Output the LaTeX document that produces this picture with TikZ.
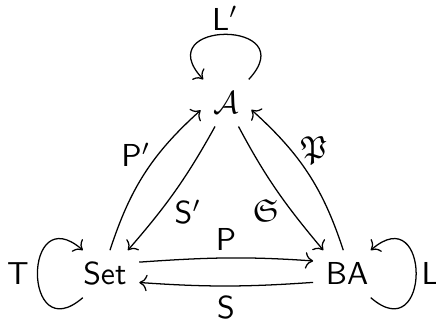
\documentclass[tikz,border=0pt]{standalone}
\usepackage{amssymb}
\usepackage{tikz}
\usetikzlibrary{arrows.meta}

\begin{document}
\begin{tikzpicture}
\tikzset{obj/.style={inner sep=3.8pt},
  lab/.style={inner sep=0pt},
  arr/.style={->}}
\useasboundingbox (-1.162,-0.576) rectangle (3.665,3.033);

% ---------- objects ----------
\node[obj] (set) at (0,0)       {$\mathsf{Set}$};
\node[obj] (ba)  at (2.68,0)    {$\mathsf{BA}$};
\node[obj] (a)   at (1.34,1.893) {$\mathcal{A}$};

% ---------- loops ----------
\draw[arr] (a.46) to[out=47,in=133,distance=0.908cm] (a.134);     % L'
\draw[arr] (set.227) to[out=221,in=139,distance=0.886cm] (set.133); % T
\draw[arr] (ba.-45) to[out=-41,in=41,distance=0.886cm] (ba.45);     % L
\node[lab] (llp) at (1.33,2.83)  {$\mathsf{L}'$};
\node[lab] (lt)  at (-0.963,0)   {$\mathsf{T}$};
\node[lab] (ll)  at (3.60,0)     {$\mathsf{L}$};

% ---------- Set <-> A ----------
\draw[arr] (set.78) to[out=72,in=222] (a.196);   % P'
\draw[arr] (a.245) to[out=241,in=49] (set.46);   % S'
\node[lab] (lpp) at (0.343,1.317) {$\mathsf{P}'$};
\node[lab] (lsp) at (0.919,0.686) {$\mathsf{S}'$};

% ---------- BA <-> A ----------
\draw[arr] (a.298) to[out=298,in=130] (ba.135);  % frak S
\draw[arr] (ba.99) to[out=108,in=318] (a.345);   % frak P
\node[lab] (lfs) at (1.782,0.697) {$\mathfrak{S}$};
\node[lab] (lfp) at (2.314,1.362) {$\mathfrak{P}$};

% ---------- Set <-> BA ----------
\draw[arr] (set.19) to[out=4,in=176] (ba.159);   % P
\draw[arr] (ba.194) to[out=184,in=356] (set.346); % S
\node[lab] (lp) at (1.34,0.387)  {$\mathsf{P}$};
\node[lab] (ls) at (1.34,-0.376) {$\mathsf{S}$};

\end{tikzpicture}
\end{document}
